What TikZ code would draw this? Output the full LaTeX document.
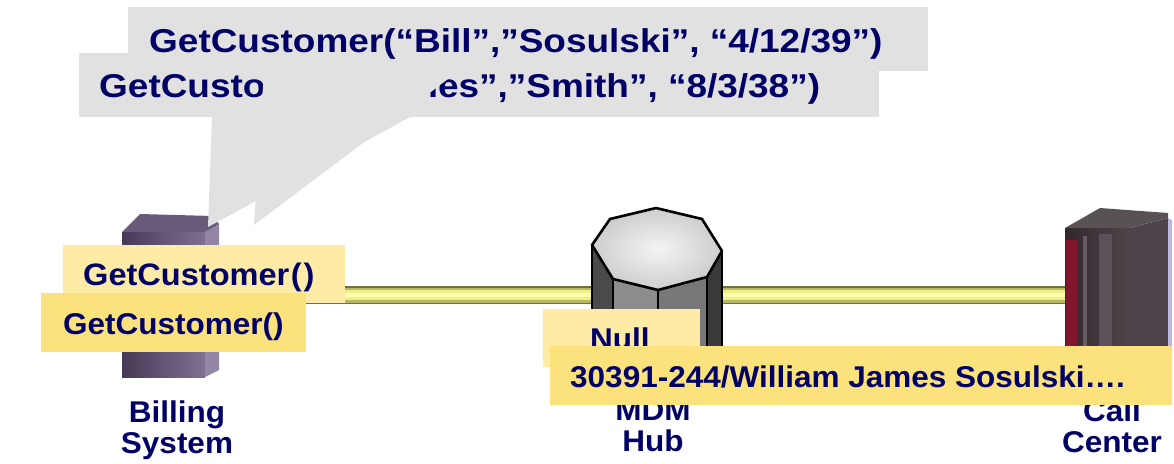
\documentclass[tikz,border=0pt]{standalone}
\usepackage{fontspec}
\setmainfont{Liberation Sans}
\newfontfamily\widefont{Liberation Sans}[FakeStretch=1.12]
\newfontfamily\semifont{Liberation Sans}[FakeStretch=1.05]
\definecolor{navy}{RGB}{0,0,102}
\definecolor{callgray}{RGB}{225,225,225}
\definecolor{ylight}{RGB}{253,235,166}
\definecolor{ydark}{RGB}{252,226,124}
\definecolor{barD}{RGB}{112,112,60}
\definecolor{barM}{RGB}{184,184,100}
\definecolor{barL}{RGB}{240,240,136}
\definecolor{barW}{RGB}{255,255,176}
\definecolor{bsA}{RGB}{70,58,86}
\definecolor{bsB}{RGB}{128,112,146}
\definecolor{bsSide}{RGB}{146,134,164}
\definecolor{bsTop}{RGB}{104,90,120}
\definecolor{ccA}{RGB}{50,40,44}
\definecolor{ccB}{RGB}{78,68,74}
\definecolor{ccRed}{RGB}{130,22,46}
\definecolor{ccS1}{RGB}{100,92,98}
\definecolor{ccS2}{RGB}{90,82,88}
\definecolor{ccSide}{RGB}{76,68,74}
\definecolor{ccTop}{RGB}{88,82,86}
\definecolor{ccEdge}{RGB}{184,184,224}
\definecolor{hubF1}{RGB}{74,74,74}
\definecolor{hubF2}{RGB}{140,140,140}
\definecolor{hubF3}{RGB}{120,120,120}
\definecolor{hubF4}{RGB}{58,58,58}
\definecolor{hubIn}{RGB}{244,244,244}
\definecolor{hubOut}{RGB}{205,205,205}
\begin{document}
\begin{tikzpicture}[x=1pt,y=-1pt,
  calltext/.style={inner sep=0pt, anchor=base west, text=navy, font=\widefont\bfseries\fontsize{33}{36}\selectfont},
  labtext/.style={inner sep=0pt, anchor=base west, text=navy, font=\semifont\bfseries\fontsize{30}{31}\selectfont},
  nametext/.style={inner sep=0pt, anchor=north, align=center, text=navy, font=\semifont\bfseries\fontsize{30}{31}\selectfont},
  bar/.style={draw=barD, line width=18pt, postaction={draw=barM, line width=15pt, postaction={draw=barL, line width=10pt, postaction={draw=barW, line width=4pt}}}},
  hubline/.style={draw=black, line width=2.6pt, line join=round}
]
\useasboundingbox (0,0) rectangle (1174,463);
\fill[white] (0,0) rectangle (1174,463);

% connector bar
\coordinate (billing) at (219,295);
\coordinate (callcenter) at (1066,295);
\draw[bar] (billing) -- (callcenter);

% Billing server
\shade[left color=bsA, right color=bsB] (122,232) rectangle (205,377);
\fill[bsSide] (205,232) -- (219,224) -- (219,370) -- (205,377) -- cycle;
\fill[bsTop] (122,232) -- (140,214) -- (212,216) -- (219,224) -- (205,232) -- cycle;

% Call center server
\shade[left color=ccA, right color=ccB] (1065,228) rectangle (1130,400);
\fill[ccRed] (1066,240) rectangle (1077,400);
\fill[ccS1] (1083,236) rectangle (1087,400);
\fill[ccS2] (1099,234) rectangle (1112,400);
\fill[ccSide] (1130,228) -- (1168,218) -- (1168,400) -- (1130,400) -- cycle;
\fill[ccTop] (1065,228) -- (1100,208) -- (1168,213) -- (1168,218) -- (1130,228) -- cycle;
\fill[ccEdge] (1168,218) -- (1172,220) -- (1172,400) -- (1168,400) -- cycle;

% MDM hub (octagonal cylinder)
\fill[hubF1] (592,245) -- (613,279) -- (613,384) -- (592,350) -- cycle;
\fill[hubF2] (613,279) -- (658,290) -- (658,395) -- (613,384) -- cycle;
\fill[hubF3] (658,290) -- (707,277) -- (707,382) -- (658,395) -- cycle;
\fill[hubF4] (707,277) -- (722,251) -- (722,355) -- (707,382) -- cycle;
\draw[hubline] (592,245) -- (592,350) (613,279) -- (613,384) (658,290) -- (658,395) (707,277) -- (707,382) (722,251) -- (722,355);
\shade[inner color=hubIn, outer color=hubOut] (592,245) -- (610,219) -- (656,208) -- (702,219) -- (722,251) -- (707,277) -- (658,290) -- (613,279) -- cycle;
\draw[hubline] (592,245) -- (610,219) -- (656,208) -- (702,219) -- (722,251) -- (707,277) -- (658,290) -- (613,279) -- cycle;

% node names
\node[nametext] (nbill) at (177,401) {Billing\\System};
\node[nametext] (nhub) at (653,400) {MDM\\Hub};
\node[nametext] (ncall) at (1112,400) {Call\\Center};

% second callout (behind)
\fill[callgray] (79,53) rectangle (879,117);
\fill[callgray] (212,116) -- (208,227) -- (412,116) -- cycle;
\node[calltext] (c2) at (99,97) {GetCustomer(“James”,”Smith”, “8/3/38”)};

% first callout (front)
\fill[callgray] (128,7) rectangle (928,71);
\fill[callgray] (264,70) -- (254,225) -- (460,70) -- cycle;
\node[calltext] (c1) at (149,52) {GetCustomer(“Bill”,”Sosulski”, “4/12/39”)};

% yellow labels
\fill[ylight] (63,245) rectangle (345,303);
\node[labtext, font=\semifont\bfseries\fontsize{31}{32}\selectfont] (g1) at (83,285) {GetCustomer\kern1.5pt(\kern2pt)};
\fill[ydark] (41,293) rectangle (306,352);
\node[labtext] (g2) at (63,334) {GetCustomer()};
\fill[ylight] (543,309) rectangle (700,367);
\node[labtext] (nl) at (590,349) {Null};
\fill[ydark] (550,346) rectangle (1172,405);
\node[labtext] (res) at (570,387) {30391-244/William James Sosulski….};
\end{tikzpicture}
\end{document}
